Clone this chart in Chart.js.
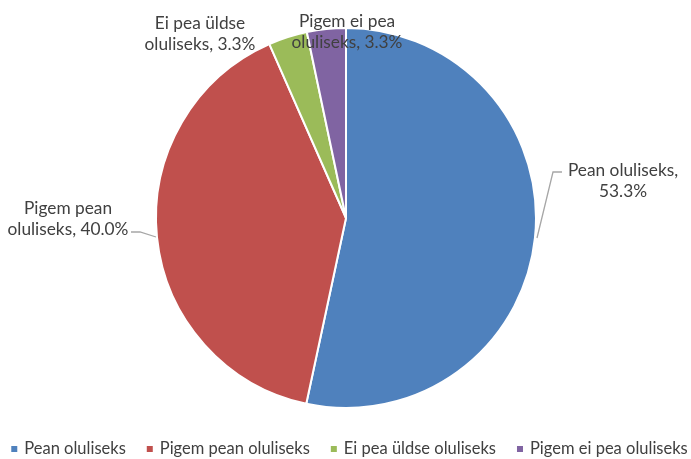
<!DOCTYPE html>
<html><head><meta charset="utf-8">
<script src="https://cdn.jsdelivr.net/npm/chart.js@4"></script>
<style>html,body{margin:0;padding:0;background:#fff}#w{width:691px;height:459px}</style>
</head><body><div id="w"><canvas id="c" width="691" height="459"></canvas></div>
<script>
const categories = ["Pean oluliseks", "Pigem pean oluliseks", "Ei pea üldse oluliseks", "Pigem ei pea oluliseks"];
const values = [53.3, 40.0, 3.3, 3.3];
const labelLines = [["Pean oluliseks,", "53.3%"], ["Pigem pean", "oluliseks, 40.0%"], ["Ei pea üldse", "oluliseks, 3.3%"], ["Pigem ei pea", "oluliseks, 3.3%"]];
const colors = ["#4F81BD", "#C0504D", "#9BBB59", "#8064A2"];
const FONT = "Lato";
const LABEL_SIZE = 17.3, LEGEND_SIZE = 16.5;
// label placement relative to chart center (dx, dy of first line), plus optional leader line
const place = [
  {dx: 277, dy: -48, leader: [[191, 20], [207, -46], [216, -46]]},
  {dx: -278, dy: -10, leader: [[-190, 19], [-206, 14], [-215, 14]]},
  {dx: -146, dy: -195},
  {dx: 1, dy: -197}
];
const labelPlugin = {
  id: 'lbl',
  afterDatasetsDraw(chart) {
    const ctx = chart.ctx;
    const arc = chart.getDatasetMeta(0).data[0];
    const cx = arc.x, cy = arc.y;
    ctx.save();
    ctx.font = LABEL_SIZE + "px '" + FONT + "'";
    ctx.fillStyle = "#404040";
    ctx.textAlign = "center";
    ctx.textBaseline = "middle";
    place.forEach((p, i) => {
      if (p.leader) {
        ctx.strokeStyle = "#A6A6A6"; ctx.lineWidth = 1.3;
        ctx.beginPath();
        p.leader.forEach((pt, j) => j ? ctx.lineTo(cx + pt[0], cy + pt[1]) : ctx.moveTo(cx + pt[0], cy + pt[1]));
        ctx.stroke();
      }
      labelLines[i].forEach((t, j) => ctx.fillText(t, cx + p.dx, cy + p.dy + j * 21));
    });
    // legend
    ctx.font = LEGEND_SIZE + "px '" + FONT + "'";
    ctx.textAlign = "left";
    const box = 6, gapBox = 7, gapItem = 21;
    const widths = categories.map(t => ctx.measureText(t).width);
    const total = widths.reduce((a, w) => a + box + gapBox + w, 0) + gapItem * (categories.length - 1);
    let x = (chart.width - total) / 2 + 4;
    const y = 449;
    categories.forEach((t, i) => {
      ctx.fillStyle = colors[i];
      ctx.fillRect(x, y - box / 2, box, box);
      ctx.fillStyle = "#404040";
      ctx.fillText(t, x + box + gapBox, y);
      x += box + gapBox + widths[i] + gapItem;
    });
    ctx.restore();
  }
};
new Chart(document.getElementById('c'), {
  type: 'pie',
  data: { labels: categories, datasets: [{ data: values, backgroundColor: colors, borderColor: '#fff', borderWidth: 2 }] },
  options: {
    responsive: false, animation: false,
    layout: { padding: { top: 27, bottom: 50, left: 1, right: 0 } },
    plugins: { tooltip: { enabled: false }, legend: { display: false } }
  },
  plugins: [labelPlugin]
});
</script></body></html>
